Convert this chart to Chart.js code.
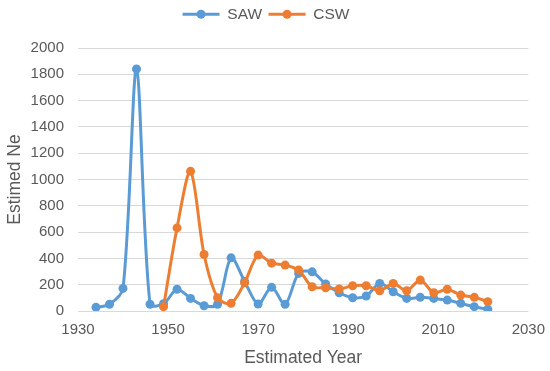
<!DOCTYPE html>
<html>
<head>
<meta charset="utf-8">
<script src="https://cdn.jsdelivr.net/npm/chart.js@4"></script>
<style>
  html, body { margin: 0; padding: 0; background: #ffffff; }
  #wrap { width: 550px; height: 371px; }
</style>
</head>
<body>
<div id="wrap"><canvas id="c" width="550" height="371"></canvas></div>
<script>
const seriesNames = ['SAW', 'CSW'];
const sawYears = [1934,1937,1940,1943,1946,1949,1952,1955,1958,1961,1964,1967,1970,1973,1976,1979,1982,1985,1988,1991,1994,1997,2000,2003,2006,2009,2012,2015,2018,2021];
const sawValues = [28,51,172,1840,51,55,165,96,40,51,404,225,53,180,51,286,298,205,139,101,114,210,146,96,104,96,83,58,33,13];
const cswYears = [1949,1952,1955,1958,1961,1964,1967,1970,1973,1976,1979,1982,1985,1988,1991,1994,1997,2000,2003,2006,2009,2012,2015,2018,2021];
const cswValues = [33,632,1062,430,101,58,215,425,364,349,311,184,177,167,192,192,154,210,154,235,139,165,121,104,71];
const xTitle = 'Estimated Year';
const yTitle = 'Estimed Ne';

const BLUE = '#5B9BD5';
const ORANGE = '#ED7D31';
const TEXT = '#595959';
const FONT = "'Liberation Sans', Arial, sans-serif";

const toPoints = (xs, ys) => xs.map((x, i) => ({ x: x, y: ys[i] }));

const legendSpacer = {
  id: 'legendSpacer',
  beforeLayout(chart) {
    const lg = chart.legend;
    if (lg && !lg._spacerPatched) {
      const orig = lg.fit;
      lg.fit = function () { orig.call(this); this.height += 16; };
      lg._spacerPatched = true;
    }
  }
};

const legendDots = {
  id: 'legendDots',
  afterDraw(chart) {
    const lg = chart.legend;
    if (!lg || !lg.legendHitBoxes) return;
    const ctx = chart.ctx;
    const bw = lg.options.labels.boxWidth;
    lg.legendHitBoxes.forEach((hb, i) => {
      const item = lg.legendItems[i];
      ctx.save();
      ctx.fillStyle = item.strokeStyle;
      ctx.beginPath();
      ctx.arc(hb.left + bw / 2, hb.top + hb.height / 2, 4.5, 0, Math.PI * 2);
      ctx.fill();
      ctx.restore();
    });
  }
};

new Chart(document.getElementById('c'), {
  type: 'line',
  data: {
    datasets: [
      {
        label: seriesNames[0],
        data: toPoints(sawYears, sawValues),
        borderColor: BLUE,
        backgroundColor: BLUE,
        pointBackgroundColor: BLUE,
        borderWidth: 3,
        pointRadius: 4.5,
        pointBorderWidth: 0,
        tension: 0.3,
        order: 1
      },
      {
        label: seriesNames[1],
        data: toPoints(cswYears, cswValues),
        borderColor: ORANGE,
        backgroundColor: ORANGE,
        pointBackgroundColor: ORANGE,
        borderWidth: 3,
        pointRadius: 4.5,
        pointBorderWidth: 0,
        tension: 0.3,
        order: 0
      }
    ]
  },
  options: {
    responsive: false,
    animation: false,
    devicePixelRatio: 1,
    layout: { padding: { top: 0, right: 18, bottom: 0, left: 0 } },
    plugins: {
      tooltip: { enabled: false },
      legend: {
        display: true,
        position: 'top',
        labels: {
          boxWidth: 37,
          boxHeight: 3,
          padding: 6.5,
          color: TEXT,
          font: { family: FONT, size: 15.5 },
          sort: (a, b) => a.datasetIndex - b.datasetIndex,
          generateLabels(chart) {
            const items = Chart.defaults.plugins.legend.labels.generateLabels(chart);
            items.forEach(it => { it.fillStyle = it.strokeStyle; it.lineWidth = 0; });
            return items;
          }
        }
      }
    },
    scales: {
      x: {
        type: 'linear',
        min: 1930,
        max: 2030,
        grid: { display: false, drawTicks: false },
        border: { display: false },
        ticks: {
          stepSize: 20,
          padding: 5,
          color: TEXT,
          font: { family: FONT, size: 15, lineHeight: 1.8 },
          maxRotation: 0,
          callback: v => String(v)
        },
        title: {
          display: true,
          text: xTitle,
          color: TEXT,
          font: { family: FONT, size: 17.5 },
          padding: { top: -0.5, bottom: 2.5 }
        }
      },
      y: {
        type: 'linear',
        min: 0,
        max: 2000,
        grid: { color: '#D9D9D9', lineWidth: 1, drawTicks: false },
        border: { display: false },
        ticks: {
          stepSize: 200,
          padding: 14,
          color: TEXT,
          font: { family: FONT, size: 15 },
          callback: v => String(v)
        },
        title: {
          display: true,
          text: yTitle,
          color: TEXT,
          font: { family: FONT, size: 17.5 },
          padding: { top: 4.5, bottom: -8.9 }
        }
      }
    }
  },
  plugins: [legendSpacer, legendDots]
});
</script>
</body>
</html>
